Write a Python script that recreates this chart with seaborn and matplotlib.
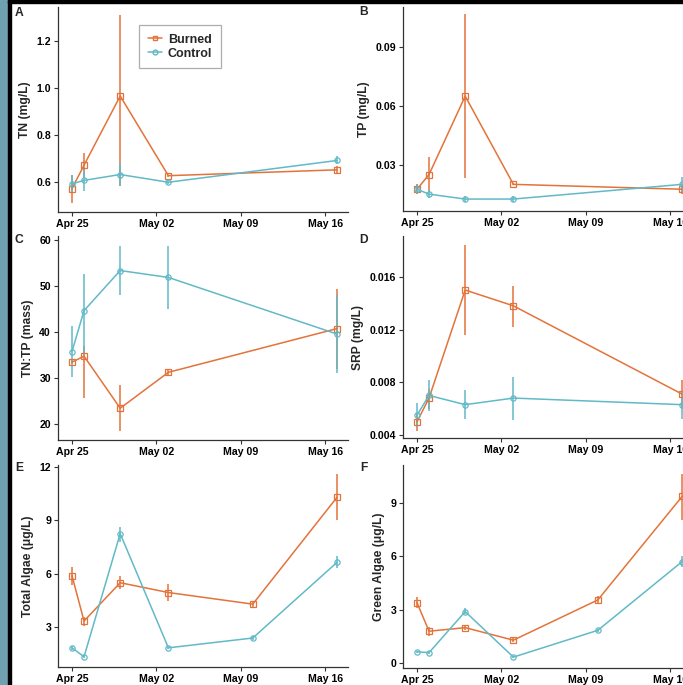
import numpy as np
import pandas as pd
import seaborn as sns
import matplotlib
matplotlib.use("Agg")
from matplotlib import pyplot as plt
from matplotlib.patches import Rectangle
from matplotlib.lines import Line2D
import matplotlib.dates as mdates

# sampling dates
dates5 = ["2019-04-25", "2019-04-26", "2019-04-29", "2019-05-03", "2019-05-17"]
dates6 = ["2019-04-25", "2019-04-26", "2019-04-29", "2019-05-03", "2019-05-10", "2019-05-17"]

# A  TN (mg/L)
tn_burn = [0.57, 0.67, 0.965, 0.625, 0.65]
tn_burn_lo = [0.51, 0.62, 0.58, 0.62, 0.635]
tn_burn_hi = [0.63, 0.72, 1.31, 0.63, 0.665]
tn_ctrl = [0.59, 0.605, 0.63, 0.597, 0.69]
tn_ctrl_lo = [0.55, 0.56, 0.58, 0.59, 0.675]
tn_ctrl_hi = [0.63, 0.66, 0.68, 0.605, 0.71]

# B  TP (mg/L)
tp_burn = [0.0175, 0.025, 0.065, 0.020, 0.0175]
tp_burn_lo = [0.015, 0.016, 0.023, 0.0195, 0.015]
tp_burn_hi = [0.020, 0.034, 0.107, 0.0205, 0.020]
tp_ctrl = [0.0175, 0.015, 0.0125, 0.0125, 0.020]
tp_ctrl_lo = [0.015, 0.013, 0.011, 0.011, 0.016]
tp_ctrl_hi = [0.020, 0.017, 0.014, 0.014, 0.024]

# C  TN:TP
ratio_burn = [33.5, 34.8, 23.5, 31.3, 40.8]
ratio_burn_lo = [33.0, 25.8, 18.5, 30.8, 32.0]
ratio_burn_hi = [34.0, 37.0, 28.5, 32.0, 49.3]
ratio_ctrl = [35.8, 44.7, 53.4, 51.9, 39.6]
ratio_ctrl_lo = [30.3, 35.0, 48.0, 45.0, 31.2]
ratio_ctrl_hi = [41.3, 52.6, 58.8, 58.8, 48.0]

# D  SRP (mg/L)
srp_burn = [0.0050, 0.0068, 0.0150, 0.0138, 0.0071]
srp_burn_lo = [0.0043, 0.0060, 0.0116, 0.0122, 0.0060]
srp_burn_hi = [0.0056, 0.0075, 0.0184, 0.0153, 0.0082]
srp_ctrl = [0.0055, 0.0070, 0.0063, 0.0068, 0.0063]
srp_ctrl_lo = [0.0046, 0.0058, 0.0052, 0.0051, 0.0052]
srp_ctrl_hi = [0.0064, 0.0082, 0.0074, 0.0084, 0.0073]

# E  Total algae
tot_burn = [5.9, 3.35, 5.5, 4.95, 4.3, 10.3]
tot_burn_lo = [5.4, 3.1, 5.15, 4.45, 4.1, 9.0]
tot_burn_hi = [6.4, 3.6, 5.85, 5.45, 4.5, 11.6]
tot_ctrl = [1.85, 1.35, 8.25, 1.85, 2.4, 6.65]
tot_ctrl_lo = [1.75, 1.3, 7.8, 1.8, 2.3, 6.3]
tot_ctrl_hi = [1.95, 1.4, 8.65, 1.9, 2.5, 7.0]

# F  Green algae
grn_burn = [3.4, 1.8, 2.0, 1.3, 3.55, 9.35]
grn_burn_lo = [3.1, 1.55, 1.85, 1.2, 3.3, 8.05]
grn_burn_hi = [3.7, 2.05, 2.15, 1.45, 3.8, 10.6]
grn_ctrl = [0.65, 0.6, 2.9, 0.35, 1.85, 5.7]
grn_ctrl_lo = [0.6, 0.55, 2.75, 0.3, 1.75, 5.4]
grn_ctrl_hi = [0.7, 0.65, 3.1, 0.4, 1.95, 6.0]

orange = "#E4733A"
teal = "#62B9C7"
pal = {"Burned": orange, "Control": teal}

sns.set_theme(style="white")
plt.rcParams["font.family"] = ["Liberation Sans", "DejaVu Sans"]
plt.rcParams["font.weight"] = "bold"

W, H = 683, 685
fig = plt.figure(figsize=(W / 100, H / 100), dpi=100)

def box(left, top, right, bottom):
    return [left / W, 1 - bottom / H, (right - left) / W, (bottom - top) / H]

panels = [
    ("A", "TN (mg/L)", dates5, tn_burn, tn_burn_lo, tn_burn_hi, tn_ctrl, tn_ctrl_lo, tn_ctrl_hi,
     box(58, 7, 348, 212), (0.47, 1.345), [0.6, 0.8, 1.0, 1.2], "%.1f"),
    ("B", "TP (mg/L)", dates5, tp_burn, tp_burn_lo, tp_burn_hi, tp_ctrl, tp_ctrl_lo, tp_ctrl_hi,
     box(403, 7, 693, 211), (0.0064, 0.1105), [0.03, 0.06, 0.09], "%.2f"),
    ("C", "TN:TP (mass)", dates5, ratio_burn, ratio_burn_lo, ratio_burn_hi, ratio_ctrl, ratio_ctrl_lo, ratio_ctrl_hi,
     box(58, 236, 348, 440), (16.6, 60.9), [20, 30, 40, 50, 60], "%d"),
    ("D", "SRP (mg/L)", dates5, srp_burn, srp_burn_lo, srp_burn_hi, srp_ctrl, srp_ctrl_lo, srp_ctrl_hi,
     box(403, 236, 693, 438), (0.00377, 0.0191), [0.004, 0.008, 0.012, 0.016], "%.3f"),
    ("E", "Total Algae (\u03bcg/L)", dates6, tot_burn, tot_burn_lo, tot_burn_hi, tot_ctrl, tot_ctrl_lo, tot_ctrl_hi,
     box(58, 465, 348, 667), (0.775, 12.1), [3, 6, 9, 12], "%d"),
    ("F", "Green Algae (\u03bcg/L)", dates6, grn_burn, grn_burn_lo, grn_burn_hi, grn_ctrl, grn_ctrl_lo, grn_ctrl_hi,
     box(403, 465, 693, 668), (-0.26, 11.11), [0, 3, 6, 9], "%d"),
]

xlim = (pd.Timestamp("2019-04-25") - pd.Timedelta(days=1.16),
        pd.Timestamp("2019-05-16") + pd.Timedelta(days=1.9))

for lab, ylab, dts, b, blo, bhi, c, clo, chi, pos, ylim, yt, fmt in panels:
    ax = fig.add_axes(pos)
    d = pd.to_datetime(dts)
    df = pd.DataFrame({
        "date": list(d) * 2,
        "value": b + c,
        "lo": blo + clo,
        "hi": bhi + chi,
        "trt": ["Burned"] * len(b) + ["Control"] * len(c),
    })
    for trt, g in df.groupby("trt"):
        ax.vlines(g["date"], g["lo"], g["hi"], color=pal[trt], lw=1.1, zorder=2)
    sns.lineplot(data=df, x="date", y="value", hue="trt", style="trt",
                 palette=pal, markers={"Burned": "s", "Control": "o"}, dashes=False,
                 markersize=3.8, lw=1.1, legend=False, ax=ax, zorder=3)
    # open markers in the series colour
    for ln in ax.get_lines():
        ln.set_markeredgecolor(ln.get_color())
        ln.set_markerfacecolor("none")
        ln.set_markeredgewidth(0.9)
    ax.set_xlim(xlim)
    ax.set_ylim(ylim)
    ax.set_yticks(yt)
    ax.yaxis.set_major_formatter(matplotlib.ticker.FormatStrFormatter(fmt))
    ax.set_xticks(pd.to_datetime(["2019-04-25", "2019-05-02", "2019-05-09", "2019-05-16"]))
    ax.xaxis.set_major_formatter(mdates.DateFormatter("%b %d"))
    ax.set_xlabel("")
    ax.set_ylabel(ylab, fontsize=8.7, fontweight="bold", labelpad=4)
    for s in ["top", "right"]:
        ax.spines[s].set_visible(False)
    for s in ["left", "bottom"]:
        ax.spines[s].set_color("#333333")
        ax.spines[s].set_linewidth(0.9)
    ax.tick_params(axis="both", which="major", length=3, width=0.8, color="#333333",
                   labelsize=7.6, pad=2, bottom=True, left=True, direction="out")
    for t in ax.get_xticklabels() + ax.get_yticklabels():
        t.set_fontweight("bold")
        t.set_color("black")
    ax.patch.set_alpha(0)
    x0 = 19 if pos[0] < 0.5 else 364
    y0 = {"A": 13, "B": 12, "C": 240, "D": 240, "E": 468, "F": 468}[lab]
    fig.text(x0 / W, 1 - y0 / H, lab, fontsize=8.7, fontweight="bold", ha="center", va="center")
    if lab == "A":
        handles = [Line2D([0], [0], color=orange, marker="s", ms=3.5, mfc="none", lw=1.1),
                   Line2D([0], [0], color=teal, marker="o", ms=3.5, mfc="none", lw=1.1)]
        leg = ax.legend(handles, ["Burned", "Control"], loc="upper left",
                        bbox_to_anchor=((139 - 58) / 290, 1 - (25 - 7) / 205),
                        borderaxespad=0,
                        prop={"weight": "bold", "size": 9}, frameon=True, fancybox=False,
                        handlelength=1.1, handletextpad=0.5, borderpad=0.7, labelspacing=0.15)
        leg.get_frame().set_edgecolor("#999999")
        leg.get_frame().set_linewidth(0.9)

# poster frame
fig.patches.append(Rectangle((0, 0), 8 / W, 1, transform=fig.transFigure, color="#6FA1B1", zorder=0))
fig.patches.append(Rectangle((8 / W, 0), 3 / W, 1, transform=fig.transFigure, color="black", zorder=0))
fig.patches.append(Rectangle((8 / W, 1 - 3 / H), 1, 3 / H, transform=fig.transFigure, color="black", zorder=0))

fig.savefig("out.png", dpi=100)
